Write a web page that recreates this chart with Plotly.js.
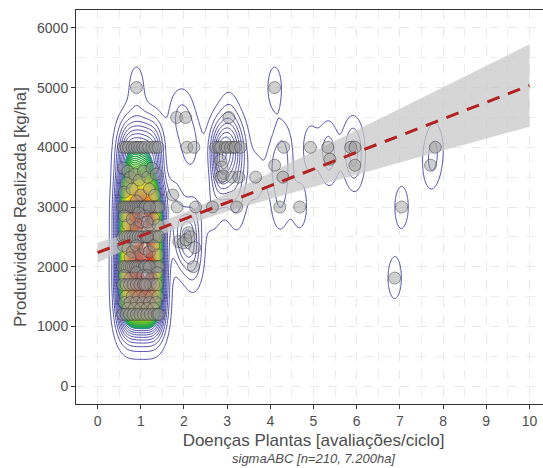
<!DOCTYPE html>
<html>
<head>
<meta charset="utf-8">
<script src="https://cdn.plot.ly/plotly-3.0.1.min.js"></script>
<style>
html,body{margin:0;padding:0;overflow:hidden;background:#fff;}
#chart{width:560px;height:468px;}
</style>
</head>
<body>
<div id="chart"></div>
<script>
// ---- Data (x = disease evaluations per cycle, y = yield kg/ha)
const coreX = [
 0.6,0.66,0.72,0.8,0.86,0.92,0.98,1.04,1.1,1.18,1.26,1.33,1.4,
 0.6,0.7,0.76,0.86,0.96,1.06,1.16,1.26,1.36,0.66,
 0.62,0.8,1.0,1.2,1.32,0.9,
 0.58,0.62,0.66,0.7,0.74,0.78,0.82,0.86,0.9,0.94,0.98,1.02,1.06,1.1,1.14,1.18,1.22,1.26,1.3,1.34,1.38,1.42,1.1,1.2,
 0.62,0.7,0.8,0.9,1.0,1.1,1.2,1.3,1.4,0.95,1.15,
 0.58,0.64,0.7,0.76,0.82,0.88,0.94,1.0,1.06,1.12,1.18,1.24,1.3,1.36,1.42,1.15,
 0.6,0.7,0.8,0.9,1.0,1.1,1.2,1.3,1.4,0.75,
 0.58,0.63,0.68,0.73,0.78,0.83,0.88,0.93,0.98,1.03,1.08,1.13,1.18,1.23,1.28,1.33,1.38,1.42,1.1,1.2,
 0.62,0.75,0.9,1.05,1.25,1.38,1.15,
 0.58,0.66,0.74,0.82,0.9,0.98,1.06,1.14,1.22,1.3,1.38,1.1,
 0.65,0.8,0.95,1.1,1.25,1.4,
 0.62,0.75,0.9,1.05,1.2,1.35,
 0.7,0.85,1.0,1.15,1.3,
 0.58,0.66,0.74,0.82,0.9,0.98,1.06,1.14,1.22,1.3,1.38,1.42,
 0.9
];
const coreY = [
 4000,4000,4000,4000,4000,4000,4000,4000,4000,4000,4000,4000,4000,
 3650,3600,3500,3550,3450,3600,3500,3650,3550,3400,
 3250,3300,3200,3300,3200,3100,
 3000,3000,3000,3000,3000,3000,3000,3000,3000,3000,3000,3000,3000,3000,3000,3000,3000,3000,3000,3000,3000,3000,3000,3000,
 2850,2700,2800,2650,2750,2850,2700,2800,2700,2900,2750,
 2500,2500,2500,2500,2500,2500,2500,2500,2500,2500,2500,2500,2500,2500,2500,2500,
 2350,2300,2250,2350,2200,2300,2250,2350,2200,2150,
 2000,2000,2000,2000,2000,2000,2000,2000,2000,2000,2000,2000,2000,2000,2000,2000,2000,2000,2000,2000,
 1850,1800,1900,1850,1800,1900,1850,
 1700,1700,1700,1700,1700,1700,1700,1700,1700,1700,1700,1700,
 1500,1500,1500,1500,1500,1500,
 1400,1400,1400,1400,1400,1400,
 1300,1300,1300,1300,1300,
 1200,1200,1200,1200,1200,1200,1200,1200,1200,1200,1200,1200,
 5000
];
const outerX = [1.83,2.04,2.07,2.23,
 3.04,2.73,2.8,2.85,2.96,3.0,3.08,3.15,3.19,3.31,2.85,2.88,2.85,2.9,3.11,3.27,3.66,
 4.1,4.31,4.1,4.29,4.22,4.68,4.93,5.33,5.38,5.86,5.96,5.96,7.82,7.71,7.04,6.88,
 1.74,1.84,2.27,2.1,1.88,1.98,2.25,2.22,2.66,3.22,2.05,2.15];
const outerY = [4500,4500,4000,4000,
 4500,4000,4000,4000,4000,4000,4000,4000,4000,4000,3780,3670,3500,3520,3500,3500,3500,
 5000,4000,3700,3500,3000,3000,4000,4000,3800,4000,4000,3700,4000,3700,3000,1810,
 3200,3000,3000,2570,2420,2400,2320,2000,3000,3000,2450,2500];

// Linear fit and its confidence band
const fitX   = [0,1,2,3,4,5,6,7,8,9,10];
const fitY   = [2235,2515,2795,3075,3355,3635,3915,4195,4475,4755,5035];
const bandLo = [2070,2402,2688,2923,3135,3341,3543,3745,3945,4145,4345];
const bandHi = [2400,2628,2902,3228,3575,3929,4287,4645,5005,5365,5725];

const xTicks = [0,1,2,3,4,5,6,7,8,9,10];
const yTicks = [0,1000,2000,3000,4000,5000,6000];

// ---- 2D kernel density (like MASS::kde2d with bandwidth.nrd)
const allX = coreX.concat(outerX), allY = coreY.concat(outerY);
const n = allX.length;
function quant(a,p){const s=a.slice().sort((u,v)=>u-v);const h=(s.length-1)*p;const lo=Math.floor(h);return s[lo]+(h-lo)*(s[Math.min(lo+1,s.length-1)]-s[lo]);}
function bw(a){const m=a.reduce((s,v)=>s+v,0)/a.length;const sd=Math.sqrt(a.reduce((s,v)=>s+(v-m)*(v-m),0)/(a.length-1));
  const r=(quant(a,0.75)-quant(a,0.25))/1.34;return 1.06*Math.min(sd,r)*Math.pow(a.length,-0.2);}
const hx = bw(allX), hy = bw(allY);
const gx=[], gy=[];
for(let v=-0.5; v<=10.5001; v+=0.04) gx.push(v);
for(let v=-300; v<=6300.001; v+=25) gy.push(v);
const kx = gx.map(g=>allX.map(p=>Math.exp(-0.5*((g-p)/hx)**2)));
const ky = gy.map(g=>allY.map(p=>Math.exp(-0.5*((g-p)/hy)**2)));
const norm = 1/(n*2*Math.PI*hx*hy);
let zmax=0;
const z = gy.map((_,j)=>gx.map((_,i)=>{let s=0;const a=kx[i],b=ky[j];for(let k=0;k<n;k++)s+=a[k]*b[k];s*=norm;if(s>zmax)zmax=s;return s;}));
const single = norm;
const split = zmax*0.33;

const traces = [
 {x:fitX, y:bandLo, type:'scatter', mode:'lines', line:{width:0,color:'rgba(0,0,0,0)'}, hoverinfo:'skip', showlegend:false},
 {x:fitX, y:bandHi, type:'scatter', mode:'lines', line:{width:0,color:'rgba(0,0,0,0)'}, fill:'tonexty', fillcolor:'rgba(200,200,200,0.75)', hoverinfo:'skip', showlegend:false},
 // low density levels: navy lines
 {x:gx, y:gy, z:z, type:'contour', showscale:false, hoverinfo:'skip',
  contours:{coloring:'none', start: single*0.6, end: split, size: single*0.8, showlabels:false},
  line:{width:0.9, color:'#3a3a9e', smoothing:1}},
 // high density core: dense coloured lines
 {x:gx, y:gy, z:z, type:'contour', showscale:false, hoverinfo:'skip',
  zmin: split, zmax: zmax,
  contours:{coloring:'lines', start: split, end: zmax, size: (zmax-split)/70, showlabels:false},
  line:{width:1.3, smoothing:1},
  colorscale:[[0,'#2f8f90'],[0.05,'#22a550'],[0.18,'#6cc02a'],[0.32,'#c8d82a'],[0.45,'#f4e41e'],[0.62,'#f5a623'],[0.8,'#e8561f'],[1,'#d41e1e']]},
 {x:allX, y:allY, type:'scatter', mode:'markers', hoverinfo:'skip', showlegend:false,
  marker:{size:12, color:'rgba(150,150,150,0.45)', line:{color:'rgba(60,60,60,0.5)', width:1}}},
 {x:fitX, y:fitY, type:'scatter', mode:'lines', hoverinfo:'skip', showlegend:false,
  line:{color:'#b22222', width:3, dash:'13px,9px'}}
];

const tickFont = {family:'Liberation Sans, Arial, sans-serif', size:14, color:'#4d4d4d'};
const titleFont = {family:'Liberation Sans, Arial, sans-serif', size:17, color:'#4d4d4d'};
const layout = {
 width:560, height:468,
 margin:{l:76, r:9, t:10, b:64},
 paper_bgcolor:'#fff', plot_bgcolor:'#fff',
 showlegend:false,
 xaxis:{range:[-0.5,10.5], tickvals:xTicks, ticktext:xTicks.map(String), ticks:'outside', ticklen:4, tickcolor:'#333',
   showline:true, linecolor:'#333', linewidth:1, mirror:true, zeroline:false,
   showgrid:true, gridcolor:'#e8e8e8', griddash:'dash', gridwidth:1,
   minor:{dtick:0.5, tick0:0, showgrid:true, gridcolor:'#ececec', griddash:'dash', ticks:''},
   tickfont:tickFont, title:{text:'Doenças Plantas [avaliações/ciclo]', font:titleFont, standoff:6}},
 yaxis:{range:[-300,6300], tickvals:yTicks, ticktext:yTicks.map(String), ticks:'outside', ticklen:4, tickcolor:'#333',
   showline:true, linecolor:'#333', linewidth:1, mirror:true, zeroline:false,
   showgrid:true, gridcolor:'#e8e8e8', griddash:'dash', gridwidth:1,
   minor:{dtick:500, tick0:0, showgrid:true, gridcolor:'#ececec', griddash:'dash', ticks:''},
   tickfont:tickFont, title:{text:'Produtividade Realizada [kg/ha]', font:titleFont, standoff:6}},
 annotations:[{text:'<i>sigmaABC [n=210, 7.200ha]</i>', xref:'paper', yref:'paper', x:0.5, y:-0.139, xanchor:'center', yanchor:'middle',
   showarrow:false, font:{family:'Liberation Sans, Arial, sans-serif', size:13, color:'#4d4d4d'}}]
};
Plotly.newPlot('chart', traces, layout, {staticPlot:true, displayModeBar:false});
</script>
</body>
</html>
